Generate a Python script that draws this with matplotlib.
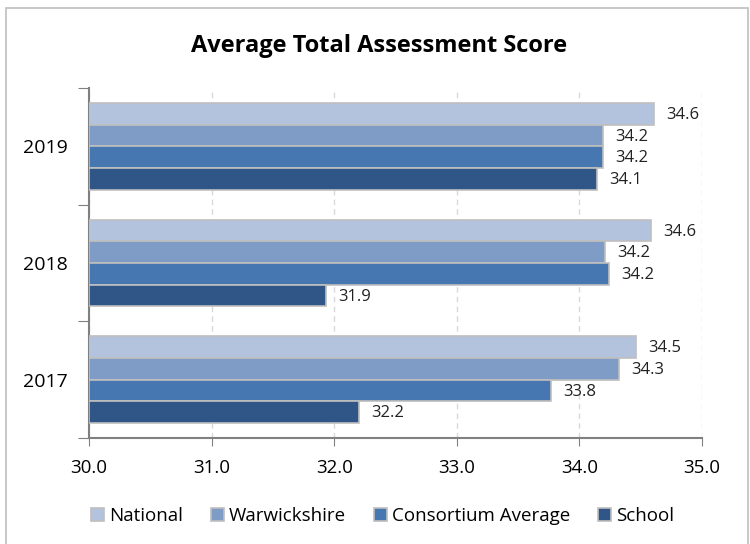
import matplotlib.pyplot as plt
from matplotlib.patches import Rectangle
import numpy as np

plt.rcParams['font.family'] = ['Open Sans', 'DejaVu Sans']

# Data
years = ["2017", "2018", "2019"]
series = ["National", "Warwickshire", "Consortium Average", "School"]
national = [34.46, 34.58, 34.61]
warwickshire = [34.32, 34.21, 34.19]
consortium = [33.77, 34.24, 34.19]
school = [32.20, 31.93, 34.14]
colors = ["#B4C3DD", "#7F9CC7", "#4677B0", "#2F5687"]

values = [national, warwickshire, consortium, school]

fig = plt.figure(figsize=(7.5, 5.44), dpi=100)
ax = fig.add_axes([0.1187, 0.195, 0.8173, 0.643])

y = np.arange(len(years))
h = 0.185
offsets = [1.5 * h, 0.5 * h, -0.5 * h, -1.5 * h]

for vals, off, col, name in zip(values, offsets, colors, series):
    ax.barh(y + off, [v - 30 for v in vals], h, left=30, color=col,
            edgecolor="#BFBFBF", linewidth=1.2, label=name, zorder=3)
    for yi, v in zip(y, vals):
        ax.text(v + 0.1, yi + off - 0.01, f"{v:.1f}", va="center", ha="left",
                fontsize=12, color="#222222")

ax.set_xlim(30, 35)
ax.set_ylim(-0.5, 2.5)
ax.set_xticks([30, 31, 32, 33, 34, 35])
ax.set_xticklabels([f"{t:.1f}" for t in [30, 31, 32, 33, 34, 35]], fontsize=13.5)
ax.tick_params(axis="x", length=6, color="#808080", pad=9)

ax.set_yticks([-0.5, 0.5, 1.5, 2.5])
ax.set_yticklabels([])
ax.set_yticks(y, minor=True)
ax.set_yticklabels(years, minor=True, fontsize=14)
ax.tick_params(axis="y", which="major", length=8, color="#808080")
ax.tick_params(axis="y", which="minor", length=0, pad=15)

ax.grid(axis="x", linestyle=(0, (4, 3)), color="#D9D9D9", linewidth=1, zorder=0)
for s in ["top", "right"]:
    ax.spines[s].set_visible(False)
ax.spines["left"].set_color("#808080")
ax.spines["bottom"].set_color("#808080")
ax.spines["left"].set_linewidth(1.5)
ax.spines["bottom"].set_linewidth(1.5)

fig.text(0.505, 0.915, "Average Total Assessment Score", ha="center", va="center",
         fontsize=17, fontweight="bold")

handles, labels = ax.get_legend_handles_labels()
fig.legend(handles, labels, loc="center", bbox_to_anchor=(0.51, 0.052), ncol=4,
           frameon=False, fontsize=13.5, handlelength=0.7, handleheight=0.7,
           handletextpad=0.25, columnspacing=1.5)

fig.patches.append(Rectangle((0.008, -0.01), 0.989, 0.995, transform=fig.transFigure,
                             fill=False, edgecolor="#BFBFBF", linewidth=1.2))

plt.savefig("out.png", dpi=100)
